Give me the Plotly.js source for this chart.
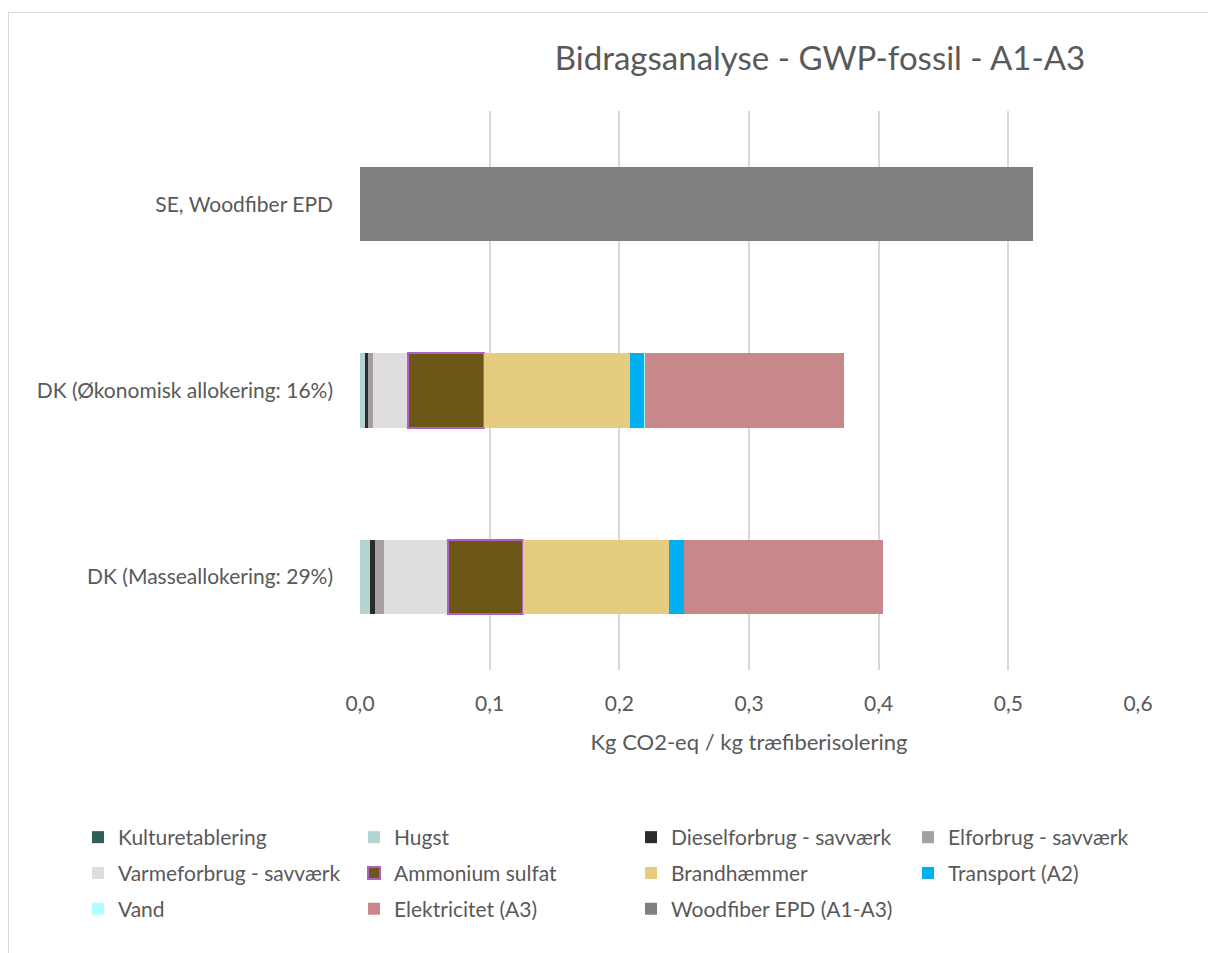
<!DOCTYPE html>
<html>
<head>
<meta charset="utf-8">
<script src="https://cdn.plot.ly/plotly-3.0.1.min.js"></script>
<style>
  body { margin: 0; background: #fff; }
  #graf { position: absolute; left: 0; top: 0; width: 1208px; height: 953px; }
  #ramme { position: absolute; left: 8px; top: 12px; width: 1300px; height: 1000px;
           border: 1px solid #d9d9d9; pointer-events: none; }
</style>
</head>
<body>
<div id="graf"></div>
<div id="ramme"></div>
<script>
// Kategorier (nedefra og op)
const kategorier = ['DK (Masseallokering: 29%)', 'DK (Økonomisk allokering: 16%)', 'SE, Woodfiber EPD'];

// Bidrag pr. proces (kg CO2-eq / kg)
const kulturetablering = [0.0003, 0.0002, 0];
const hugst = [0.0077, 0.0040, 0];
const diesel = [0.0039, 0.0023, 0];
const elforbrug = [0.0069, 0.0039, 0];
const varme = [0.049, 0.0265, 0];
const ammonium = [0.058, 0.0585, 0];
const brandhaemmer = [0.1125, 0.113, 0];
const transport = [0.0116, 0.011, 0];
const vand = [0.0002, 0.0001, 0];
const elektricitet = [0.1534, 0.154, 0];
const woodfiber = [0, 0, 0.519];

const serier = [
    { navn: 'Kulturetablering', v: kulturetablering, farve: '#2f5f56' },
    { navn: 'Hugst', v: hugst, farve: '#b3d4d2' },
    { navn: 'Dieselforbrug - savværk', v: diesel, farve: '#2b2b2b' },
    { navn: 'Elforbrug - savværk', v: elforbrug, farve: '#a59fa1' },
    { navn: 'Varmeforbrug - savværk', v: varme, farve: '#dfdddd' },
    { navn: 'Ammonium sulfat', v: ammonium, farve: '#6d5716', linje: '#b15fc8' },
    { navn: 'Brandhæmmer', v: brandhaemmer, farve: '#e6cc7f' },
    { navn: 'Transport (A2)', v: transport, farve: '#00b0f0' },
    { navn: 'Vand', v: vand, farve: '#afffff' },
    { navn: 'Elektricitet (A3)', v: elektricitet, farve: '#c8878a' },
    { navn: 'Woodfiber EPD (A1-A3)', v: woodfiber, farve: '#808080' }
];

// signaturforklaring i 4 kolonner -> en legend pr. kolonne
const legendNavne = ['legend', 'legend2', 'legend3', 'legend4'];

const data = serier.map((s, i) => ({
    type: 'bar',
    orientation: 'h',
    name: s.navn,
    y: kategorier,
    x: s.v,
    legend: legendNavne[i % 4],
    legendgroup: s.navn,
    marker: {
        color: s.farve,
        line: { color: s.linje || 'rgba(0,0,0,0)', width: s.linje ? 2 : 0 }
    },
    hoverinfo: 'x+name'
}));

const font = 'Lato, "Open Sans", sans-serif';
const tekstFarve = '#595959';

function kolonne(xPx) {
    return {
        orientation: 'v',
        traceorder: 'grouped',
        xref: 'container', yref: 'container',
        x: xPx / 1208, xanchor: 'left',
        y: 1 - 817 / 953, yanchor: 'top',
        tracegroupgap: 5.5,
        itemwidth: 30,
        bgcolor: 'rgba(0,0,0,0)',
        font: { family: font, size: 21, color: tekstFarve }
    };
}

const layout = {
    width: 1208,
    height: 953,
    barmode: 'stack',
    bargap: 0.6,
    separators: ',.',
    font: { family: font, size: 21, color: tekstFarve },
    title: {
        text: 'Bidragsanalyse - GWP-fossil - A1-A3',
        font: { family: font, size: 33, color: tekstFarve },
        xref: 'container', yref: 'container',
        x: 820 / 1208, xanchor: 'center',
        y: 1 - 58 / 953, yanchor: 'middle'
    },
    margin: { l: 360, r: 70, t: 111, b: 283, autoexpand: false },
    xaxis: {
        range: [0, 0.6],
        dtick: 0.1,
        tickformat: '.1f',
        showgrid: true,
        gridcolor: '#d9d9d9',
        gridwidth: 1.5,
        zeroline: false,
        showline: false,
        ticks: '',
        ticklabelstandoff: 19,
        tickfont: { family: font, size: 21, color: tekstFarve },
        title: {
            text: 'Kg CO2-eq / kg træfiberisolering',
            font: { family: font, size: 22, color: tekstFarve },
            standoff: 20
        }
    },
    yaxis: {
        showgrid: false,
        zeroline: false,
        showline: false,
        ticks: '',
        ticklabelstandoff: 26,
        tickfont: { family: font, size: 21, color: tekstFarve }
    },
    showlegend: true,
    legend: kolonne(78),
    legend2: kolonne(354),
    legend3: kolonne(631),
    legend4: kolonne(908),
    plot_bgcolor: '#ffffff',
    paper_bgcolor: '#ffffff'
};

Plotly.newPlot('graf', data, layout, { displayModeBar: false });
</script>
</body>
</html>
